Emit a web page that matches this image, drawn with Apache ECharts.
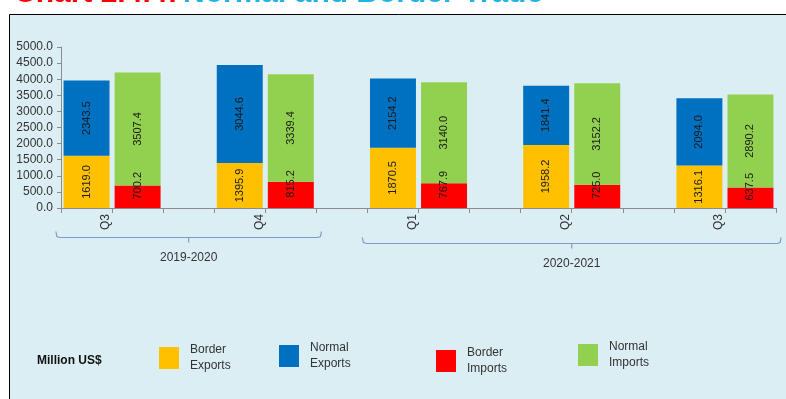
<!DOCTYPE html>
<html>
<head>
<meta charset="utf-8">
<script src="https://cdn.jsdelivr.net/npm/echarts@6/dist/echarts.min.js"></script>
<style>
  html, body { margin: 0; padding: 0; background: #fff; }
  #chart { width: 786px; height: 399px; }
</style>
</head>
<body>
<div id="chart"></div>
<script>
// data
var quarters = ['Q3', 'Q4', 'Q1', 'Q2', 'Q3'];
var years = ['2019-2020', '2020-2021'];
var yearQuarters = [[0, 1], [2, 4]]; // first and last quarter index of each year
var borderExports = [1619.0, 1395.9, 1870.5, 1958.2, 1316.1];
var normalExports = [2343.5, 3044.6, 2154.2, 1841.4, 2094.0];
var borderImports = [700.2, 815.2, 767.9, 725.0, 637.5];
var normalImports = [3507.4, 3339.4, 3140.0, 3152.2, 2890.2];
var seriesNames = ['Border Exports', 'Normal Exports', 'Border Imports', 'Normal Imports'];
var colors = ['#FFC000', '#0070C0', '#FF0000', '#92D050'];

// each quarter takes 3 slots: exports, imports, gap
var slots = [];
quarters.forEach(function (q, i) {
  slots.push(q + ' exp', q + ' imp');
  if (i < quarters.length - 1) slots.push('');
});

function spread(values, offset) {
  var out = slots.map(function () { return '-'; });
  values.forEach(function (v, i) { out[i * 3 + offset] = v; });
  return out;
}

var seriesData = [
  spread(borderExports, 0),
  spread(normalExports, 0),
  spread(borderImports, 1),
  spread(normalImports, 1)
];

var chart = echarts.init(document.getElementById('chart'));

var series = seriesNames.map(function (name, k) {
  return {
    name: name,
    type: 'bar',
    stack: 'all',
    barCategoryGap: '10%',
    itemStyle: { color: colors[k] },
    data: seriesData[k],
    label: {
      show: true,
      position: 'inside',
      rotate: 90,
      // rotated label: local x points up on screen
      offset: k === 2 ? [11, 0] : [0, 0],
      color: '#1a1a1a',
      fontFamily: 'Arial, Liberation Sans',
      fontSize: 11,
      formatter: function (p) { return p.value.toFixed(1); }
    }
  };
});

var legendLeft = [159, 279, 436, 578];
var legendTop = [342, 340, 345, 339];
var legends = seriesNames.map(function (name, k) {
  return {
    data: [name],
    left: legendLeft[k],
    top: legendTop[k],
    padding: 0,
    icon: 'rect',
    itemWidth: 20,
    itemHeight: 22,
    selectedMode: false,
    formatter: function (n) { return n.replace(' ', '\n'); },
    textStyle: {
      color: '#333',
      fontFamily: 'Arial, Liberation Sans',
      fontSize: 12,
      lineHeight: 16,
      padding: [0, 0, 0, 6]
    }
  };
});

chart.setOption({
  animation: false,
  backgroundColor: '#fff',
  grid: { left: 61, right: 10, top: 47, bottom: 191 },
  legend: legends,
  title: {
    text: 'Million US$',
    left: 32,
    top: 350,
    textStyle: { fontSize: 12, fontWeight: 'bold', color: '#111', fontFamily: 'Arial, Liberation Sans' }
  },
  xAxis: [
    {
      type: 'category',
      position: 'bottom',
      data: slots,
      axisLine: { lineStyle: { color: '#8c8c8c' } },
      axisTick: { show: true, interval: 0, length: 5, lineStyle: { color: '#8c8c8c' } },
      axisLabel: { show: false }
    },
    {
      type: 'value',
      position: 'bottom',
      min: 0,
      max: slots.length,
      interval: 1,
      axisLine: { show: false },
      axisTick: { show: false },
      splitLine: { show: false },
      axisLabel: {
        rotate: 90,
        margin: 6,
        verticalAlign: 'bottom',
        color: '#333',
        fontFamily: 'Arial, Liberation Sans',
        fontSize: 12,
        formatter: function (v) {
          return (v % 3 === 1) ? quarters[(v - 1) / 3] : '';
        }
      }
    }
  ],
  yAxis: {
    type: 'value',
    min: 0,
    max: 5000,
    interval: 500,
    axisLine: { show: true, lineStyle: { color: '#8c8c8c' } },
    axisTick: { show: true, length: 4, lineStyle: { color: '#8c8c8c' } },
    splitLine: { show: false },
    axisLabel: {
      margin: 8,
      color: '#333',
      fontFamily: 'Arial, Liberation Sans',
      fontSize: 12,
      formatter: function (v) { return v.toFixed(1); }
    }
  },
  series: series
});

// frame, title and year brackets
function drawExtras() {
  var base = chart.convertToPixel({ yAxisIndex: 0 }, 0);
  var bracketDrop = [29, 35];
  var elements = [
    {
      type: 'rect', z: -10, silent: true,
      shape: { x: 9.5, y: 14.5, width: 800, height: 400 },
      style: { fill: '#DBEEF4', stroke: '#000', lineWidth: 1 }
    },
    {
      type: 'text', left: 14, top: -21, silent: true,
      style: { text: 'Chart 2.4.4:', fill: '#FF0000', font: 'bold 30px Arial, Liberation Sans' }
    },
    {
      type: 'text', left: 183, top: -21, silent: true,
      style: { text: 'Normal and Border Trade', fill: '#1FB4E8', font: 'bold 30px Arial, Liberation Sans' }
    }
  ];
  years.forEach(function (y, i) {
    var x0 = chart.convertToPixel({ xAxisIndex: 1 }, yearQuarters[i][0] * 3 - 0.1);
    var x1 = chart.convertToPixel({ xAxisIndex: 1 }, yearQuarters[i][1] * 3 + 2.1);
    var xc = (x0 + x1) / 2;
    var by = Math.round(base + bracketDrop[i]) + 0.5;
    var stroke = { stroke: '#7F9CC6', lineWidth: 1.2, fill: null };
    elements.push({
      type: 'polyline', silent: true,
      shape: { points: [[x0, by - 6], [x0 + 1, by - 1], [x0 + 4, by], [x1 - 4, by], [x1 - 1, by - 1], [x1, by - 6]] },
      style: stroke
    });
    elements.push({
      type: 'line', silent: true,
      shape: { x1: xc, y1: by, x2: xc, y2: by + 5 },
      style: stroke
    });
    elements.push({
      type: 'text', silent: true,
      x: xc, y: by + 14,
      style: { text: y, fill: '#333', font: '12px Arial, Liberation Sans', align: 'center', verticalAlign: 'top' }
    });
  });
  chart.setOption({ graphic: elements });
}
drawExtras();
</script>
</body>
</html>
